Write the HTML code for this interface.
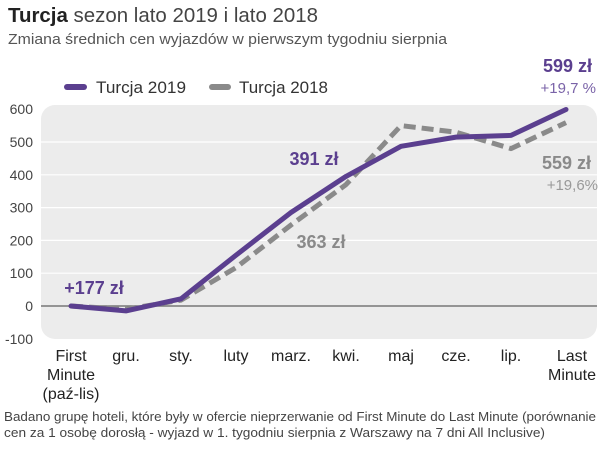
<!DOCTYPE html>
<html><head><meta charset="utf-8">
<style>
body{margin:0;background:#fff;font-family:"Liberation Sans","DejaVu Sans",sans-serif;}
svg text{font-family:"Liberation Sans","DejaVu Sans",sans-serif;}
</style></head>
<body>
<svg id="chart" width="600" height="450" viewBox="0 0 600 450">
<text x="8" y="22" font-size="20" fill="#444" textLength="310" lengthAdjust="spacingAndGlyphs"><tspan font-weight="bold" fill="#222">Turcja</tspan> sezon lato 2019 i lato 2018</text>
<text x="8" y="44" font-size="15" fill="#555" textLength="439" lengthAdjust="spacingAndGlyphs">Zmiana średnich cen wyjazdów w pierwszym tygodniu sierpnia</text>
<rect x="41" y="105" width="556" height="234" rx="14" fill="#ececec"/>
<g id="grid"></g><g id="yticks"></g><g id="xticks"></g><g id="series"></g>
<g>
<line x1="67" y1="87" x2="84" y2="87" stroke="#5b3f8f" stroke-width="6" stroke-linecap="round"/>
<text x="96" y="93" font-size="17" fill="#333" textLength="90" lengthAdjust="spacingAndGlyphs">Turcja 2019</text>
<line x1="212" y1="87" x2="228" y2="87" stroke="#8a8a8a" stroke-width="6" stroke-linecap="round"/>
<text x="239" y="93" font-size="17" fill="#333" textLength="89" lengthAdjust="spacingAndGlyphs">Turcja 2018</text>
</g>
<text x="94" y="294" font-size="18" font-weight="bold" fill="#5b3f8f" text-anchor="middle">+177 zł</text>
<text x="314" y="165" font-size="18" font-weight="bold" fill="#5b3f8f" text-anchor="middle">391 zł</text>
<text x="321" y="248" font-size="18" font-weight="bold" fill="#8a8a8a" text-anchor="middle">363 zł</text>
<text x="592" y="72" font-size="18" font-weight="bold" fill="#5b3f8f" text-anchor="end">599 zł</text>
<text x="596" y="93" font-size="15" fill="#7a63a8" text-anchor="end">+19,7 %</text>
<text x="591" y="169" font-size="18" font-weight="bold" fill="#8a8a8a" text-anchor="end">559 zł</text>
<text x="598" y="190" font-size="15" fill="#999" text-anchor="end">+19,6%</text>
<text x="4" y="421" font-size="13" fill="#444" textLength="592" lengthAdjust="spacingAndGlyphs">Badano grupę hoteli, które były w ofercie  nieprzerwanie od First Minute do Last Minute (porównanie</text>
<text x="4" y="437" font-size="13" fill="#444" textLength="541" lengthAdjust="spacingAndGlyphs">cen za 1 osobę dorosłą - wyjazd w 1. tygodniu sierpnia z Warszawy na 7 dni All Inclusive)</text>
</svg>
<script>
const categories=["First|Minute|(paź-lis)","gru.","sty.","luty","marz.","kwi.","maj","cze.","lip.","Last|Minute"];
const series2019=[0,-15,22,155,285,395,487,515,520,599];
const series2018=[0,-10,18,117,247,370,550,530,480,559];
const yTicks=[-100,0,100,200,300,400,500,600];
const NS="http://www.w3.org/2000/svg";
function xs(i){return 71+i*55;}
function ys(v){return 306-v*0.328;}
function mk(t,a,p){const e=document.createElementNS(NS,t);for(const k in a)e.setAttribute(k,a[k]);p.appendChild(e);return e;}
const grid=document.getElementById('grid'),yt=document.getElementById('yticks'),xt=document.getElementById('xticks'),sr=document.getElementById('series');
yTicks.forEach(v=>{
  if(v>-100&&v<600){const l=mk('line',{x1:41,x2:597,y1:ys(v),y2:ys(v),stroke:v===0?'#777':'#fff','stroke-width':v===0?1.5:1.2},grid);
  
  }
  const t=mk('text',{x:33,y:ys(v)+5,'font-size':14,fill:'#444','text-anchor':'end'},yt);t.textContent=v;
  
  
});
categories.forEach((c,i)=>{
  const last=i===categories.length-1;
  const x=last?xs(i)+6:xs(i);
  const t=mk('text',{x:x,y:361,'font-size':16,fill:'#222','text-anchor':'middle'},xt);
  
  
  c.split('|').forEach((p,j)=>{const s=mk('tspan',{x:x,dy:j?19:0},t);s.textContent=p;});
});
function path(d){return d.map((v,i)=>(i?'L':'M')+xs(i).toFixed(1)+' '+ys(v).toFixed(1)).join(' ');}
const p18=mk('path',{d:path(series2018),fill:'none',stroke:'#8a8a8a','stroke-width':5,'stroke-dasharray':'12 6','stroke-linejoin':'round'},sr);


const p19=mk('path',{d:path(series2019),fill:'none',stroke:'#5b3f8f','stroke-width':5,'stroke-linejoin':'round','stroke-linecap':'round'},sr);


</script>
</body></html>
